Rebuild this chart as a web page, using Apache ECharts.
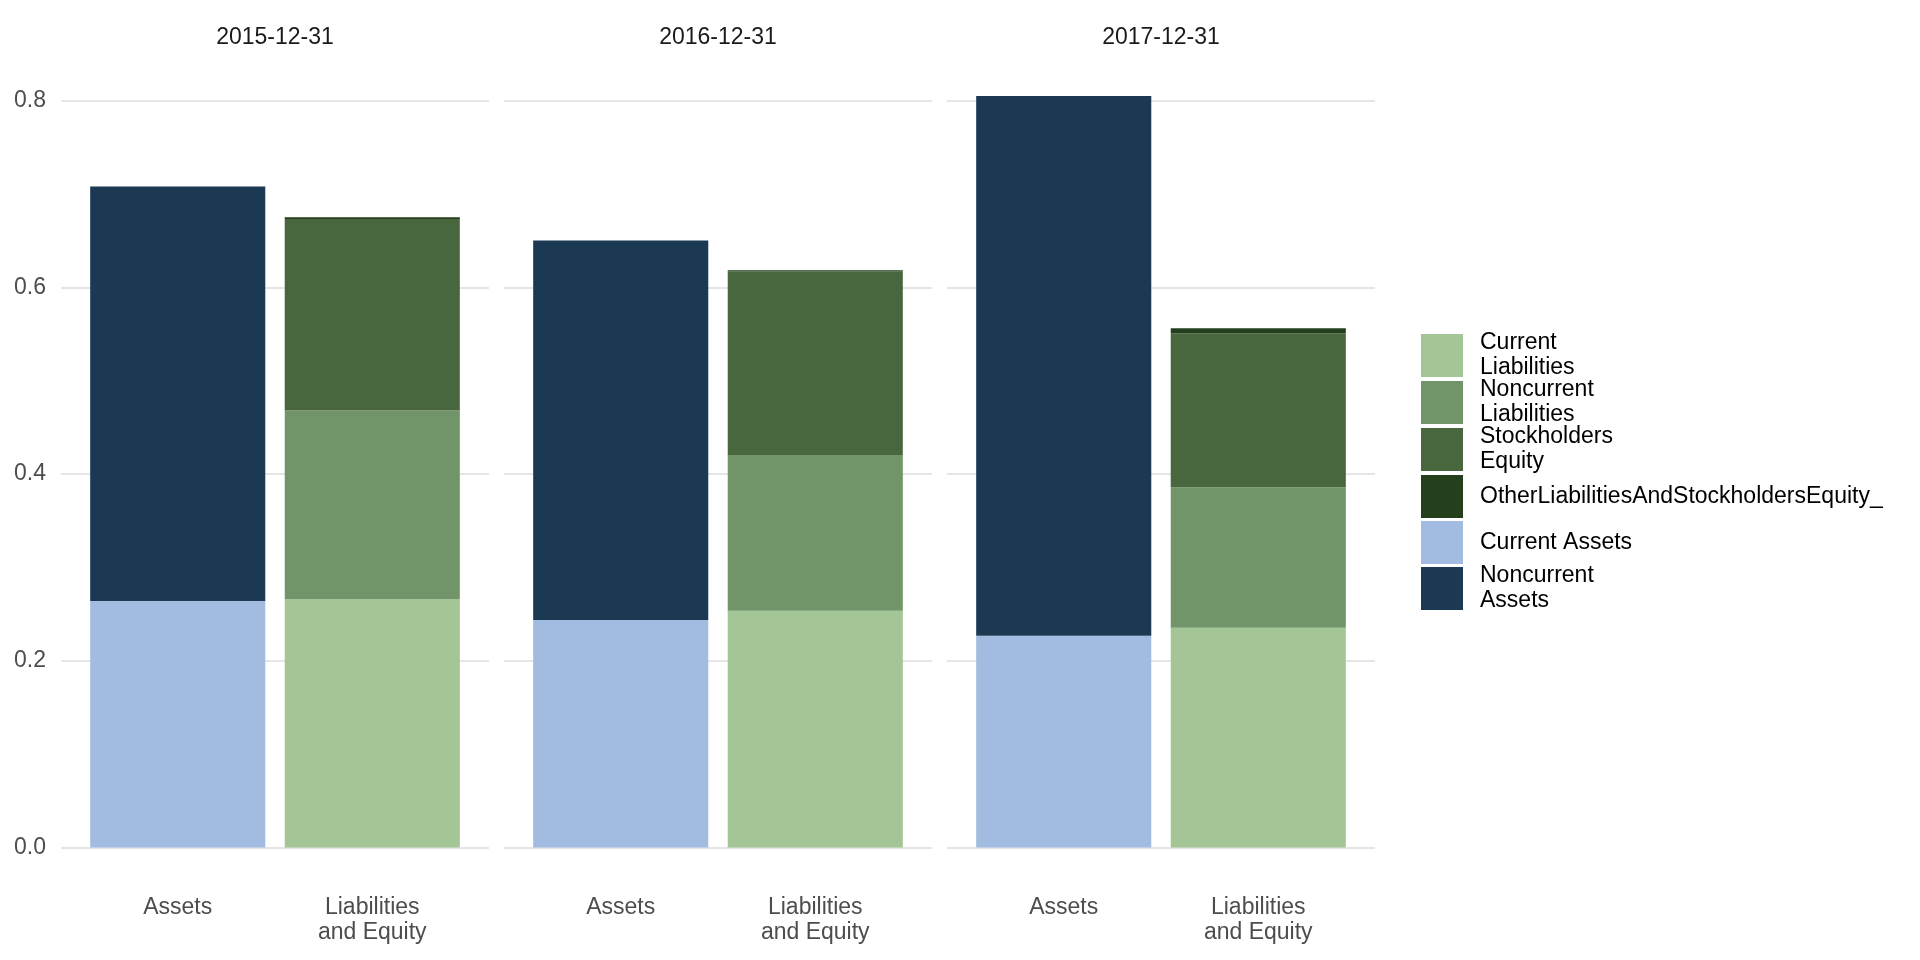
<!DOCTYPE html>
<html>
<head>
<meta charset="utf-8">
<script src="https://cdn.jsdelivr.net/npm/echarts@6/dist/echarts.min.js"></script>
<style>
html,body{margin:0;padding:0;background:#fff;}
#chart{width:1920px;height:960px;}
</style>
</head>
<body>
<div id="chart"></div>
<script>
// ---- data ----
const dates = ['2015-12-31', '2016-12-31', '2017-12-31'];
const categories = ['Assets', 'Liabilities\nand Equity'];
const currentAssets = [0.264, 0.2436, 0.2268];
const noncurrentAssets = [0.444, 0.4064, 0.578];
const currentLiabilities = [0.266, 0.2535, 0.2353];
const noncurrentLiabilities = [0.202, 0.167, 0.1506];
const stockholdersEquity = [0.205, 0.1966, 0.1648];
const otherLiabEquity = [0.002, 0.001, 0.0053];
const yTicks = [0, 0.2, 0.4, 0.6, 0.8];

const seriesDefs = [
  { name: 'Current Liabilities', label: 'Current\nLiabilities', color: '#a4c596', values: currentLiabilities, cat: 1 },
  { name: 'Noncurrent Liabilities', label: 'Noncurrent\nLiabilities', color: '#729469', values: noncurrentLiabilities, cat: 1 },
  { name: 'Stockholders Equity', label: 'Stockholders\nEquity', color: '#48673e', values: stockholdersEquity, cat: 1 },
  { name: 'OtherLiabilitiesAndStockholdersEquity_', label: 'OtherLiabilitiesAndStockholdersEquity_', color: '#243f1b', values: otherLiabEquity, cat: 1 },
  { name: 'Current Assets', label: 'Current Assets', color: '#a1bce0', values: currentAssets, cat: 0 },
  { name: 'Noncurrent Assets', label: 'Noncurrent\nAssets', color: '#1c3953', values: noncurrentAssets, cat: 0 }
];

// ---- layout ----
const FONT = "'Liberation Sans', Arial, sans-serif";
const panelStarts = [61, 504, 947];
const panelW = 428;
const unit = panelW / 2.2;
const gTop = 100.5, gBottom = 960 - 847.6;
const keyTops = [334, 381, 428, 475, 521, 567];

const grids = [], xAxes = [], yAxes = [], series = [], titles = [];
const yMin = yTicks[0], yMax = yTicks[yTicks.length - 1], yStep = yTicks[1] - yTicks[0];

dates.forEach((d, i) => {
  const ps = panelStarts[i];
  // background grid (gridlines across full panel)
  grids.push({ left: ps, width: panelW, top: gTop, bottom: gBottom });
  xAxes.push({ type: 'category', gridIndex: 2 * i, data: ['_'], show: false });
  yAxes.push({
    type: 'value', gridIndex: 2 * i, min: yMin, max: yMax, interval: yStep,
    axisLine: { show: false }, axisTick: { show: false },
    axisLabel: { show: i === 0, fontSize: 23, color: '#4d4d4d', fontFamily: FONT, margin: 15, formatter: v => v.toFixed(1) },
    splitLine: { show: true, lineStyle: { color: '#e5e5e5', width: 2 } }
  });
  // bar grid
  grids.push({ left: ps + unit * 0.1, width: unit * 2, top: gTop, bottom: gBottom });
  xAxes.push({
    type: 'category', gridIndex: 2 * i + 1, data: categories,
    axisLine: { show: false }, axisTick: { show: false },
    axisLabel: { interval: 0, fontSize: 23, lineHeight: 25, color: '#4d4d4d', fontFamily: FONT, margin: 48 }
  });
  yAxes.push({ type: 'value', gridIndex: 2 * i + 1, min: yMin, max: yMax, interval: yStep, show: false, splitLine: { show: false } });

  seriesDefs.forEach(s => {
    const data = categories.map((c, ci) => (ci === s.cat ? s.values[i] : 0));
    series.push({
      type: 'bar', name: s.name, stack: 'p' + i, xAxisIndex: 2 * i + 1, yAxisIndex: 2 * i + 1,
      data: data, barWidth: '90%', clip: false, itemStyle: { color: s.color }, silent: true
    });
  });

  titles.push({
    text: d, left: ps + panelW / 2, top: 26, textAlign: 'center', padding: 0,
    textStyle: { fontSize: 23, fontWeight: 'normal', color: '#1a1a1a', fontFamily: FONT }
  });
});

const legends = seriesDefs.map((s, k) => {
  const twoLine = s.label.indexOf('\n') >= 0;
  return {
    data: [s.name], left: 1421, top: keyTops[k] - (twoLine ? 3.5 : 0), orient: 'vertical', padding: 0,
    itemWidth: 42, itemHeight: 43, icon: 'rect', selectedMode: false,
    formatter: () => s.label,
    textStyle: { fontSize: 23, lineHeight: 25, color: '#000', fontFamily: FONT, padding: [0, 0, 0, 12] }
  };
});

const chart = echarts.init(document.getElementById('chart'));
chart.setOption({
  animation: false,
  backgroundColor: '#fff',
  title: titles,
  grid: grids,
  xAxis: xAxes,
  yAxis: yAxes,
  legend: legends,
  series: series
});
</script>
</body>
</html>
